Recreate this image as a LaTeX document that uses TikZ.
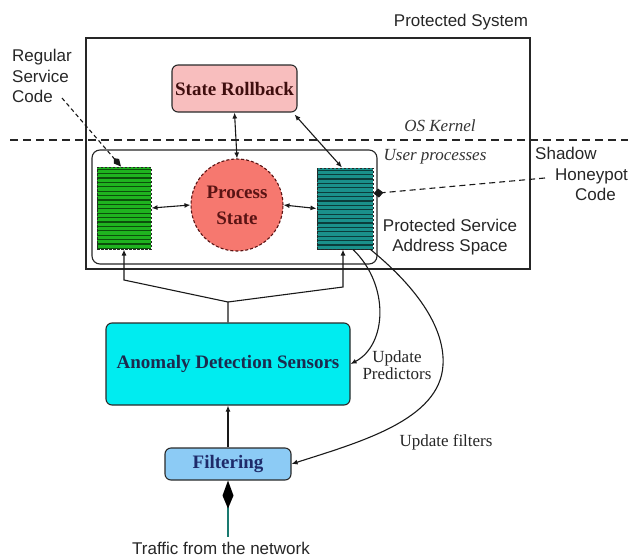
\documentclass[tikz,border=0pt]{standalone}
\usepackage{fontspec}
\setmainfont{Liberation Serif}
\newfontfamily\sansf{Liberation Sans}
\usetikzlibrary{arrows.meta,calc}
\definecolor{srfill}{HTML}{F8BEBE}
\definecolor{psfill}{HTML}{F6786F}
\definecolor{pstext}{HTML}{5A1414}
\definecolor{adsfill}{HTML}{00ECF0}
\definecolor{adstext}{HTML}{1C2A4E}
\definecolor{filfill}{HTML}{8CCBF5}
\definecolor{filtext}{HTML}{1E2B6A}
\definecolor{grfill}{HTML}{1FB31F}
\definecolor{grline}{HTML}{0B4F0B}
\definecolor{tlfill}{HTML}{1A918B}
\definecolor{tlline}{HTML}{0B3D3B}
\definecolor{trafline}{HTML}{1A7A70}
\definecolor{edge}{HTML}{2A2A2A}
\begin{document}
\begin{tikzpicture}[x=1pt,y=-1pt,
  >={Latex[length=6pt,width=5pt]},
  sanslabel/.style={font=\sansf\fontsize{17}{20.5}\selectfont, text=black!85, inner sep=0pt},
  seriflabel/.style={font=\fontsize{17}{15}\selectfont, text=black!85, inner sep=0pt},
  itlabel/.style={font=\itshape\fontsize{17}{20}\selectfont, text=black!80, inner sep=0pt},
  boldbox/.style={draw=edge, line width=1.1pt, rounded corners=6pt, font=\bfseries\fontsize{19}{22}\selectfont, inner sep=0pt},
  stripebox/.style={draw=black!85, dashed, dash pattern=on 2.5pt off 1.5pt, line width=1pt, inner sep=0pt,
    path picture={\foreach \k in {0,...,18}{\draw[#1, solid, line width=1.1pt] ([yshift={-\k*4.4pt-2.2pt}]path picture bounding box.north west) -- ([yshift={-\k*4.4pt-2.2pt}]path picture bounding box.north east);}}},
  conn/.style={line width=1.1pt, black!90},
]
\useasboundingbox (0,0) rectangle (628,557);

% outer system box
\node[draw=black!85, line width=1.1pt, minimum width=444pt, minimum height=231pt, inner sep=0pt] (sys) at (308,153.5) {};
\node[sanslabel] (syslabel) at (461,22) {Protected System};

% kernel line
\coordinate (kl) at (10,140);
\coordinate (kr) at (628,140);
\draw[line width=1.2pt, black!85, dash pattern=on 8pt off 5pt] (kl) -- (kr);
\node[itlabel] (oskernel) at (440,126) {OS Kernel};

% user processes box
\node[draw=black!85, line width=1.1pt, rounded corners=8pt, minimum width=285pt, minimum height=114pt, inner sep=0pt] (user) at (234.5,207) {};
\node[itlabel] (userlabel) at (435,157) {User processes};

% state rollback
\node[boldbox, fill=srfill, text=pstext!70!black, minimum width=125pt, minimum height=47pt] (sr) at (234.5,88.5) {State Rollback};

% process state
\node[circle, draw=pstext, dashed, dash pattern=on 3pt off 2pt, line width=1.1pt, fill=psfill, minimum size=92pt, inner sep=0pt,
  font=\bfseries\fontsize{19}{26}\selectfont, text=pstext, align=center] (ps) at (237,205) {Process\\State};

% code boxes
\node[stripebox=grline, fill=grfill, minimum width=54pt, minimum height=82pt] (green) at (124,208) {};
\node[stripebox=tlline, fill=tlfill, minimum width=56pt, minimum height=81pt] (teal) at (345,208.5) {};

% labels
\node[sanslabel, align=left, anchor=north west] (reg) at (12,49) {Regular\\Service\\Code};
\coordinate (regend) at (62,98);
\node[sanslabel, align=left, anchor=north west] (shadow) at (535,147) {Shadow\\\hspace*{20pt}Honeypot\\\hspace*{40pt}Code};
\coordinate (shend) at (545,178);
\node[sanslabel, align=center] (pssa) at (450,237) {Protected Service\\Address Space};

% anomaly detection & filtering
\node[boldbox, fill=adsfill, text=adstext, minimum width=244pt, minimum height=82pt] (ads) at (228,364) {Anomaly Detection Sensors};
\node[boldbox, fill=filfill, text=filtext, minimum width=126pt, minimum height=32pt] (filt) at (228,464) {Filtering};
\node[sanslabel] (traffic) at (221,548) {Traffic from the network};
\node[seriflabel, align=center] (updpred) at (397,365) {Update\\Predictors};
\node[seriflabel] (updfilt) at (446,442) {Update filters};

% connectors
\draw[conn, <->] (sr.south) -- (ps.north);
\draw[conn, <->] (green.east) -- (ps.west);
\draw[conn, <->] (ps.east) -- (teal.west);
\draw[conn, <->] ([xshift=-3pt]teal.north) -- ([xshift=-3pt,yshift=-2pt]sr.south east);
\draw[conn, dashed, dash pattern=on 4pt off 3pt, -{Kite[length=11pt,width=7pt,inset=4pt]}] (regend) -- ([xshift=-3pt]green.north);
\draw[conn, dashed, dash pattern=on 6pt off 4pt, -{Kite[length=10pt,width=9pt,inset=5pt]}] (shend) -- ($(teal.east)+(0,-15)$);

\coordinate (j) at (228,302);
\coordinate (gl) at (124,280);
\coordinate (tr) at (343,287);
\draw[conn, ->] (ads.north) -- (j) -- (gl) -- (green.south);
\draw[conn, ->] (j) -- (tr) -- ([xshift=-2pt]teal.south);

\draw[conn, ->] ([xshift=8pt]teal.south) .. controls (390,285) and (387,345) .. (ads.east);
\draw[conn, ->] ([xshift=-3pt]teal.south east) .. controls (420,290) and (445,330) .. (443,365)
   .. controls (440,420) and (360,442) .. (filt.east);

\draw[conn, ->] (filt.north) -- (ads.south);
\draw[line width=1.8pt, trafline, -{Kite[length=28pt,width=11pt,inset=13pt,color=black]}] ([yshift=5pt]filt.south |- traffic.north) -- (filt.south);
\end{tikzpicture}
\end{document}
